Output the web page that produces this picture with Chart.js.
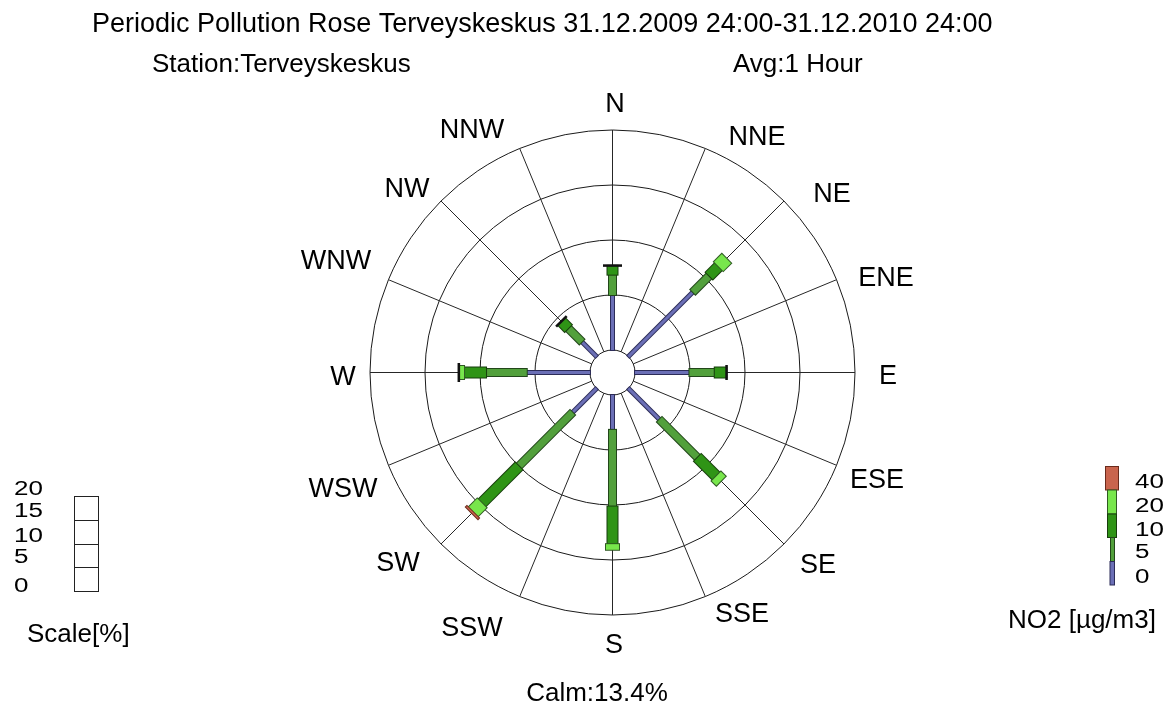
<!DOCTYPE html>
<html><head><meta charset="utf-8">
<script src="https://cdn.jsdelivr.net/npm/chart.js@4.4.0/dist/chart.umd.min.js"></script>
<style>html,body{margin:0;padding:0;background:#fff;} canvas{display:block;}</style>
</head><body>
<canvas id="c" width="1168" height="702"></canvas>
<script>
// ---------- DATA ----------
const directionLabels = ['N','NNE','NE','ENE','E','ESE','SE','SSE','S','SSW','SW','WSW','W','WNW','NW','NNW'];
const sectors = ['N','NE','E','SE','S','SW','W','NW'];
const sectorAngles = [0, 45, 90, 135, 180, 225, 270, 315];
// frequency [%] of each NO2 class per wind sector
const freq0_5   = [5.0, 8.3, 4.95, 4.0, 3.17, 3.1, 5.75, 1.9];
const freq5_10  = [1.85, 2.1, 2.3, 4.9, 6.97, 6.9, 3.7, 1.75];
const freq10_20 = [0.8, 1.2, 1.05, 2.4, 3.42, 4.75, 2.0, 0.85];
const freq20_40 = [0, 1.0, 0.05, 0.6, 0.51, 1.15, 0.45, 0.05];
const freq40up  = [0.05, 0, 0, 0, 0, 0.12, 0.05, 0];
const calmPercent = 13.4;
const ringValues = [5, 10, 15, 20];
const scaleTicks = ['20', '15', '10', '5', '0'];
const no2Ticks = ['40', '20', '10', '5', '0'];

// ---------- STYLE / LAYOUT ----------
const FONT = '"Liberation Sans", Arial, sans-serif';
const PX_PER_PCT = 11;
const CALM_R = 22.5 / PX_PER_PCT;     // calm circle radius in % units
const EXT = 1 / PX_PER_PCT;           // 1px outline at segment ends
const TINY = 0.1;                     // segments shorter than this are drawn as outline only
const SOLID = [10000, 0];             // solid dash: keeps exact straight-line drawing
const classStyles = [
  {fill: '#6b6fb6', line: '#2c2c58', w: 5},
  {fill: '#52a03c', line: '#22461a', w: 9},
  {fill: '#2f9416', line: '#173d0c', w: 12},
  {fill: '#78e64c', line: '#2f5a22', w: 15},
  {fill: '#c9644d', line: '#6a2a1c', w: 19}
];
const classData = [freq0_5, freq5_10, freq10_20, freq20_40, freq40up];
const labelCenters = {
  N:[615,102], NNE:[757,135], NE:[832,192], ENE:[886,276], E:[888,374], ESE:[877,478],
  SE:[818,563], SSE:[742,612], S:[614,643], SSW:[472,626], SW:[398,561], WSW:[343,487],
  W:[343,375], WNW:[336,259], NW:[407,187], NNW:[472,128]
};

function pol(r, deg) {
  const a = deg * Math.PI / 180;
  return {x: r * Math.sin(a), y: r * Math.cos(a)};
}
function radiusPx(chart, v) {
  const s = chart.scales.x;
  return Math.abs(s.getPixelForValue(v) - s.getPixelForValue(0));
}

const datasets = [];
let seq = 0;
function add(ds) {
  ds.order = -(seq++);
  ds.clip = false;
  ds.showLine = ds.showLine !== false;
  ds.borderDash = SOLID;
  datasets.push(ds);
}

// rings
ringValues.forEach(v => {
  add({data: [{x: 0, y: 0}], showLine: false,
       pointRadius: ctx => radiusPx(ctx.chart, CALM_R + v),
       pointBackgroundColor: 'rgba(0,0,0,0)', pointBorderColor: '#1a1a1a', pointBorderWidth: 1});
});
// spokes
directionLabels.forEach((lab, i) => {
  const a = i * 22.5;
  add({data: [pol(CALM_R, a), pol(CALM_R + ringValues[ringValues.length - 1], a)],
       borderColor: '#262626', borderWidth: 1, pointRadius: 0});
});
// calm circle
add({data: [{x: 0, y: 0}], showLine: false,
     pointRadius: ctx => radiusPx(ctx.chart, CALM_R),
     pointBackgroundColor: '#ffffff', pointBorderColor: '#1a1a1a', pointBorderWidth: 1});
// bars
sectors.forEach((s, si) => {
  const a = sectorAngles[si];
  let c = CALM_R;
  classData.forEach((arr, k) => {
    const v = arr[si];
    if (!(v > 0)) return;
    const st = classStyles[k];
    const r0 = c, r1 = c + v;
    const tiny = v < TINY;
    add({data: [pol(r0 - EXT, a), pol(r1 + EXT, a)], borderColor: tiny ? '#111111' : st.line,
         borderWidth: st.w, pointRadius: 0});
    if (!tiny) add({data: [pol(r0, a), pol(r1, a)], borderColor: st.fill, borderWidth: st.w - 2, pointRadius: 0});
    c = r1;
  });
});

function txt(ctx, s, x, y, size, align, sy) {
  ctx.save();
  ctx.font = size + 'px ' + FONT;
  ctx.fillStyle = '#000';
  ctx.textAlign = align || 'left';
  ctx.textBaseline = 'alphabetic';
  if (sy && sy !== 1) { ctx.translate(x, y); ctx.scale(1, sy); ctx.fillText(s, 0, 0); }
  else ctx.fillText(s, x, y);
  ctx.restore();
}
function box(ctx, x0, y0, x1, y1, fill, line) {
  ctx.save();
  ctx.fillStyle = fill; ctx.fillRect(x0, y0, x1 - x0, y1 - y0);
  ctx.strokeStyle = line; ctx.lineWidth = 1; ctx.strokeRect(x0, y0, x1 - x0, y1 - y0);
  ctx.restore();
}

const textPlugin = {
  id: 'roseText',
  afterDraw(chart) {
    const ctx = chart.ctx;
    txt(ctx, 'Periodic Pollution Rose Terveyskeskus 31.12.2009 24:00-31.12.2010 24:00', 92, 31.5, 27);
    txt(ctx, 'Station:Terveyskeskus', 152, 71.5, 26);
    txt(ctx, 'Avg:1 Hour', 733, 71.5, 26);
    directionLabels.forEach(l => {
      const p = labelCenters[l];
      txt(ctx, l, p[0], p[1] + 0.358 * 27, 27, 'center');
    });
    txt(ctx, 'Calm:' + calmPercent.toFixed(1) + '%', 597, 701, 26, 'center');
    // scale legend
    const sb = [495, 516.7, 541.7, 563.3, 592];
    scaleTicks.forEach((t, i) => txt(ctx, t, 14, sb[i], 26, 'left', 0.8));
    const by = [496.5, 520.5, 544.5, 567.5, 591.5];
    for (let i = 0; i < 4; i++) box(ctx, 74.5, by[i], 98.5, by[i + 1], '#fff', '#222');
    txt(ctx, 'Scale[%]', 27, 641.5, 26);
    // NO2 legend
    box(ctx, 1105.5, 466.5, 1118.5, 490, classStyles[4].fill, classStyles[4].line);
    box(ctx, 1107.5, 490, 1116.5, 514, classStyles[3].fill, classStyles[3].line);
    box(ctx, 1107.5, 514, 1116.5, 537.5, classStyles[2].fill, classStyles[2].line);
    box(ctx, 1110.5, 537.5, 1114.5, 561.5, classStyles[1].fill, classStyles[1].line);
    box(ctx, 1110, 561.5, 1114.5, 585, classStyles[0].fill, classStyles[0].line);
    const nb = [488, 511.7, 536, 558.3, 582.5];
    no2Ticks.forEach((t, i) => txt(ctx, t, 1135, nb[i], 26, 'left', 0.8));
    txt(ctx, 'NO2 [µg/m3]', 1008, 628, 26);
  }
};

new Chart(document.getElementById('c'), {
  type: 'scatter',
  data: {datasets},
  options: {
    responsive: false,
    animation: false,
    events: [],
    devicePixelRatio: 1,
    layout: {padding: {left: 326.5, right: 269.5, top: 86.5, bottom: 43.5}},
    plugins: {legend: {display: false}, tooltip: {enabled: false}, title: {display: false}},
    scales: {
      x: {type: 'linear', display: false, min: -26, max: 26},
      y: {type: 'linear', display: false, min: -26, max: 26}
    }
  },
  plugins: [textPlugin]
});
</script>
</body></html>
